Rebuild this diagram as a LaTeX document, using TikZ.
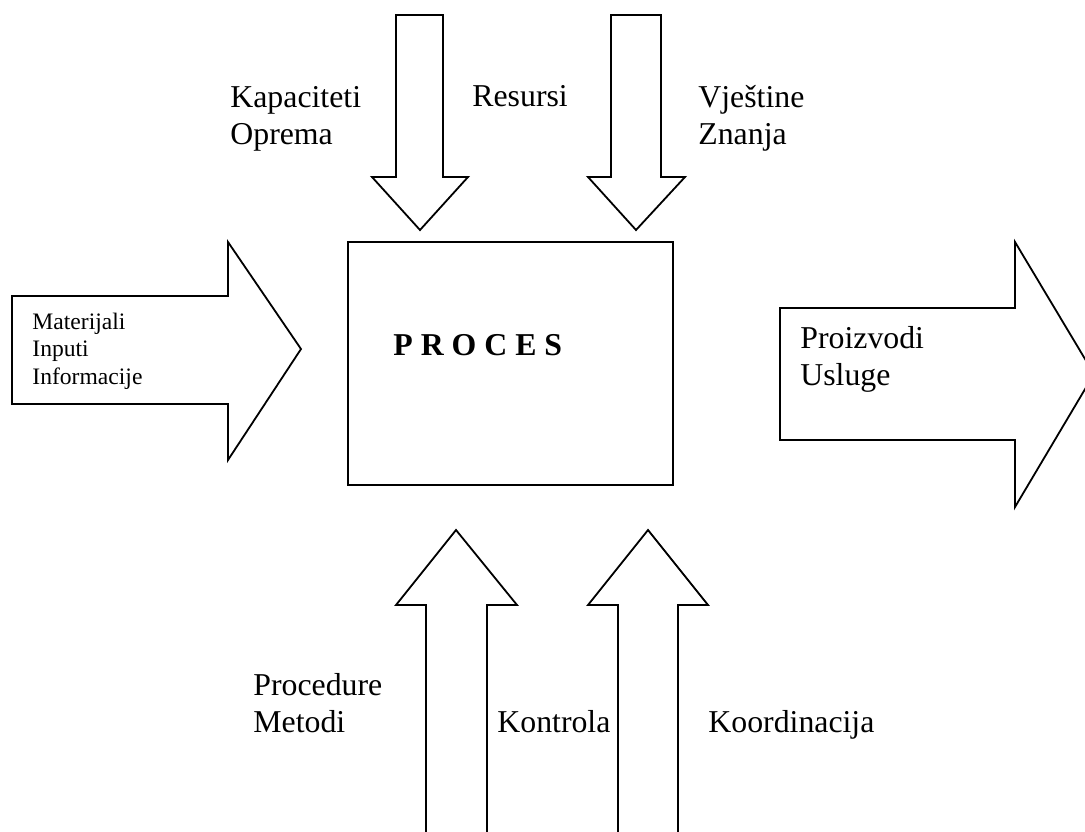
\documentclass[tikz,border=0pt]{standalone}
\usepackage{fontspec}
\setmainfont{Liberation Serif}
\newcommand{\bigtxt}{\fontsize{15.9}{18.5}\selectfont}
\newcommand{\smalltxt}{\fontsize{11.8}{13.75}\selectfont}
\newcommand{\lines}{0.9pt}
\tikzset{
    blockarr/.style = {draw, line width = \lines, line join = miter},
    lbl/.style = {anchor = base west, inner sep = 0pt, align = left, font = \bigtxt},
    lblsmall/.style = {lbl, font = \smalltxt},
    procbox/.style = {draw, line width = \lines, minimum width = 162.5pt, minimum height = 121.5pt, inner sep = 0pt}
}
\begin{document}
\begin{tikzpicture}[x = 0.5pt, y = -0.5pt]
                %\draw[help lines] (0,0) grid[step=50] (1085,831);
                \clip (0, 0) rectangle (1085, 831);

                % process box
                \node[procbox] (proc) at (510.5, 363.5) {};
                \node[lbl, font = \bigtxt\bfseries] (proctxt) at (393, 355) {P R O C E S};

                % input from the left (base = last line)
                \begin{scope}[shift={(12, 350)}]
                    \draw[blockarr] (0, -54) -- (216, -54) -- (216, -108) -- (289, -1)
                        -- (216, 110) -- (216, 54) -- (0, 54) -- cycle;
                \end{scope}
                \node[lblsmall] (mat) at (32, 384) {Materijali\\Inputi\\Informacije};

                % output to the right
                \begin{scope}[shift={(780, 374)}]
                    \draw[blockarr] (0, -66) -- (235, -66) -- (235, -132) -- (314, 0)
                        -- (235, 133) -- (235, 66) -- (0, 66) -- cycle;
                \end{scope}
                \node[lbl] (proi) at (800, 385) {Proizvodi\\Usluge};

                % from above
                \begin{scope}[shift={(420, 0)}]
                    \draw[blockarr] (-24, 15) -- (23, 15) -- (23, 177) -- (48, 177)
                        -- (0, 230) -- (-48, 177) -- (-24, 177) -- cycle;
                \end{scope}
                \begin{scope}[shift={(636, 0)}]
                    \draw[blockarr] (-25, 15) -- (25, 15) -- (25, 177) -- (49, 177)
                        -- (0, 230) -- (-48, 177) -- (-25, 177) -- cycle;
                \end{scope}
                \node[lbl] (kap) at (230, 144) {Kapaciteti\\Oprema};
                \node[lbl] (res) at (472, 106) {Resursi};
                \node[lbl] (vje) at (698, 144) {Vještine\\Znanja};

                % from below
                \begin{scope}[shift={(456, 0)}]
                    \draw[blockarr] (-30, 835) -- (-30, 605) -- (-60, 605) -- (0, 530)
                        -- (61, 605) -- (31, 605) -- (31, 835);
                \end{scope}
                \begin{scope}[shift={(648, 0)}]
                    \draw[blockarr] (-30, 835) -- (-30, 605) -- (-60, 605) -- (0, 530)
                        -- (60, 605) -- (30, 605) -- (30, 835);
                \end{scope}
                \node[lbl] (pro) at (253, 732) {Procedure\\Metodi};
                \node[lbl] (kon) at (497, 732) {Kontrola};
                \node[lbl] (koo) at (708, 732) {Koordinacija};

\end{tikzpicture}
\end{document}
